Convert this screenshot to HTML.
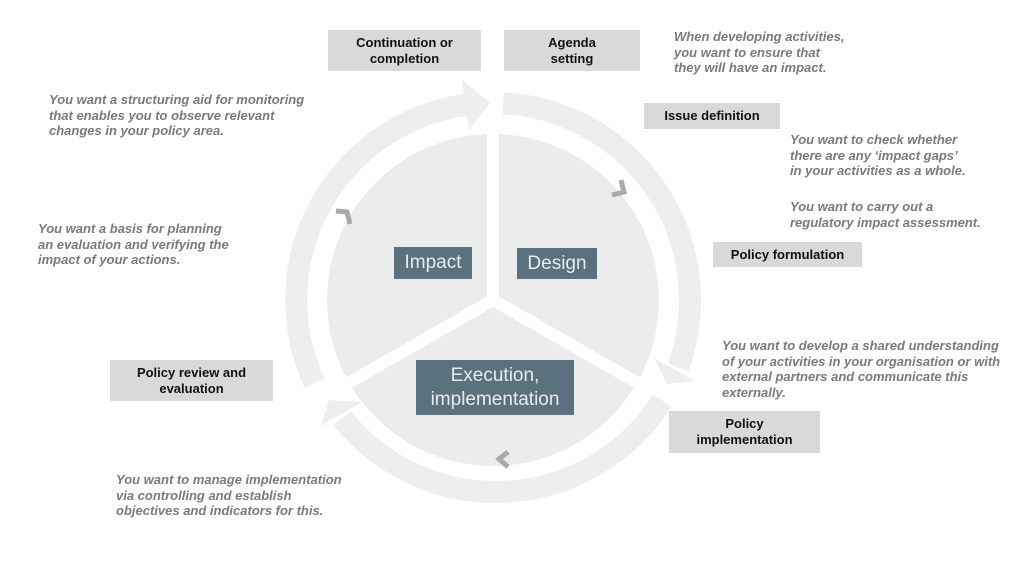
<!DOCTYPE html>
<html><head><meta charset="utf-8"><style>
body{margin:0;width:1024px;height:564px;background:#fff;position:relative;overflow:hidden;font-family:"Liberation Sans",Arial,sans-serif}
.b{position:absolute;background:#d9d9d9;color:#111;font-weight:bold;font-size:13px;text-align:center;display:flex;align-items:center;justify-content:center;line-height:16px}
.t{position:absolute;color:#7a7a7a;font-weight:bold;font-style:italic;font-size:13px;line-height:15.5px;white-space:nowrap}
.d{position:absolute;background:#5a717e;color:#e8ecee;font-size:19px;display:flex;align-items:center;justify-content:center;text-align:center;line-height:24px}
</style></head><body>
<svg width="1024" height="564" style="position:absolute;left:0;top:0">
<g fill="none" stroke="#eeeeee" stroke-width="22">
<path d="M314.5,383 A197,197 0 0 1 465.6,104.9"/>
<path d="M503.3,103.3 A197,197 0 0 1 678.1,367.4"/>
<path d="M662.2,400.5 A197,197 0 0 1 342,418"/>
</g>
<g fill="#eeeeee">
<polygon points="469,130 462,80 490,103"/>
<polygon points="654,358 695,381 667,384"/>
<polygon points="362,402 321,426 329,400"/>
</g>
<circle cx="493" cy="300" r="166" fill="#ececec"/>
<g stroke="#fff" stroke-width="12">
<line x1="493" y1="300" x2="493" y2="120"/>
<line x1="493" y1="300" x2="650" y2="390"/>
<line x1="493" y1="300" x2="336" y2="390"/>
</g>
<g fill="none" stroke="#aaaaaa" stroke-width="5">
<polyline points="612,195 624,192 621,180"/>
<polyline points="336,211 347,212 350,224"/>
<polyline points="508,452 499,459 508,467"/>
</g>
</svg>
<div class="d" style="left:394px;top:247px;width:78px;height:32px">Impact</div>
<div class="d" style="left:517px;top:248px;width:80px;height:31px">Design</div>
<div class="d" style="left:416px;top:360px;width:158px;height:55px">Execution,<br>implementation</div>
<div class="b" style="left:328px;top:30px;width:153px;height:41px">Continuation or<br>completion</div>
<div class="b" style="left:504px;top:30px;width:136px;height:41px">Agenda<br>setting</div>
<div class="b" style="left:644px;top:103px;width:136px;height:26px">Issue definition</div>
<div class="b" style="left:713px;top:242px;width:149px;height:25px">Policy formulation</div>
<div class="b" style="left:669px;top:411px;width:151px;height:42px">Policy<br>implementation</div>
<div class="b" style="left:110px;top:360px;width:163px;height:41px">Policy review and<br>evaluation</div>
<div class="t" style="left:674px;top:29px">When developing activities,<br>you want to ensure that<br>they will have an impact.</div>
<div class="t" style="left:790px;top:132px">You want to check whether<br>there are any ‘impact gaps’<br>in your activities as a whole.</div>
<div class="t" style="left:790px;top:199px">You want to carry out a<br>regulatory impact assessment.</div>
<div class="t" style="left:49px;top:92px">You want a structuring aid for monitoring<br>that enables you to observe relevant<br>changes in your policy area.</div>
<div class="t" style="left:38px;top:221px">You want a basis for planning<br>an evaluation and verifying the<br>impact of your actions.</div>
<div class="t" style="left:722px;top:338px">You want to develop a shared understanding<br>of your activities in your organisation or with<br>external partners and communicate this<br>externally.</div>
<div class="t" style="left:116px;top:472px">You want to manage implementation<br>via controlling and establish<br>objectives and indicators for this.</div>
</body></html>
